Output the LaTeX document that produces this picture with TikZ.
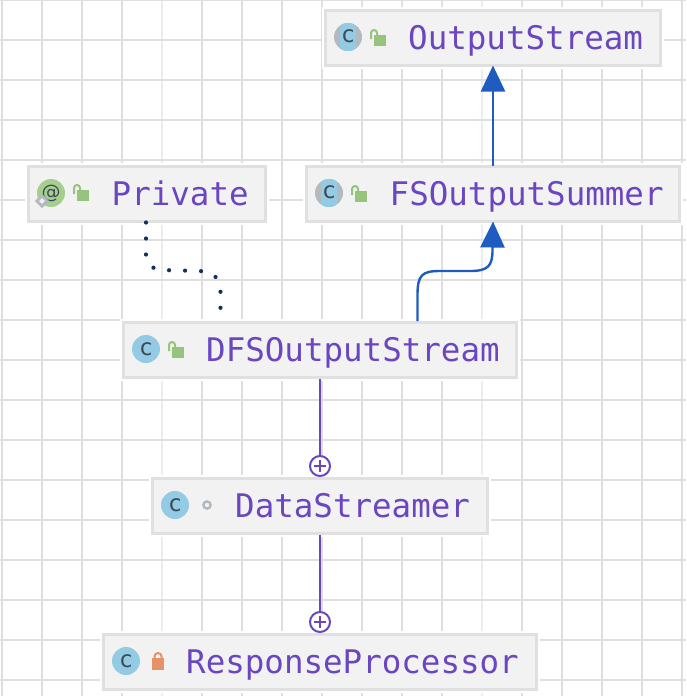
\documentclass[tikz,border=0pt]{standalone}
\usepackage{fontspec}
\setmonofont{DejaVu Sans Mono}
\setsansfont{DejaVu Sans}
\usetikzlibrary{arrows.meta}
\definecolor{gridc}{HTML}{DFDFDF}
\definecolor{gridl}{HTML}{ECECEC}
\definecolor{boxfill}{HTML}{F2F2F2}
\definecolor{boxline}{HTML}{E0E0E0}
\definecolor{purp}{HTML}{6A46C0}
\definecolor{blu}{HTML}{1F5CC0}
\definecolor{navy}{HTML}{12305F}
\definecolor{cblue}{HTML}{93CBE4}
\definecolor{cgray}{HTML}{B2BAC0}
\definecolor{cgreen}{HTML}{A6CF8E}
\definecolor{lockg}{HTML}{96C47E}
\definecolor{locko}{HTML}{E59268}
\definecolor{ink}{HTML}{3C4A55}
\tikzset{
  cls/.style={draw=boxline,line width=2.4pt,fill=boxfill,minimum height=55pt,inner sep=0pt,outer sep=1pt,
    preaction={draw=white,line width=7pt}},
  lbl/.style={text=purp,inner sep=0pt,anchor=base west,font=\fontsize{32.5}{36}\selectfont\ttfamily},
  cglyph/.style={text=ink,inner sep=0pt,font=\fontsize{23}{24}\selectfont\ttfamily},
  badge/.style={circle,fill=cblue,minimum size=28pt,inner sep=0pt,cglyph},
  gbadge/.style={circle,fill=cgreen,minimum size=28pt,inner sep=0pt,text=ink,font=\fontsize{19}{20}\selectfont\sffamily},
  ext/.style={-{Triangle[length=26pt,width=24pt]},blu,line width=2.4pt,shorten >=-1pt},
  inner/.style={purp,line width=2.2pt},
  plusc/.style={circle,draw=purp,line width=2pt,fill=white,minimum size=20pt,inner sep=0pt},
  dep/.style={navy,line width=4.2pt,line cap=round,dash pattern=on 0pt off 16pt},
}
\newcommand{\openlock}[2]{%
  \fill[lockg] (#1+3,#2-1) rectangle (#1+15,#2+10);
  \draw[lockg,line width=2pt] (#1,#2+3) -- (#1,#2-3) arc[start angle=180,end angle=0,radius=3pt] -- (#1+6,#2-1);
}
\newcommand{\mixedbadge}[2]{%
  \fill[cgray] (#1,#2) circle (14pt);
  \begin{scope}
    \clip (#1,#2) circle (14pt);
    \fill[cblue] (#1-8,#2-14) rectangle (#1+8,#2+14);
  \end{scope}
}
\begin{document}
\begin{tikzpicture}[x=1pt,y=-1pt]
\useasboundingbox (0,0) rectangle (686,696);
\fill[white] (0,0) rectangle (686,696);
\foreach \v in {2,42,82,122,202,242,282,322,362,402,442,522,562,602,642,682}
  \draw[gridc,line width=2pt] (\v,0) -- (\v,696);
\foreach \v in {162,482}
  \draw[gridl,line width=2pt] (\v,0) -- (\v,696);
\foreach \h in {0,40,80,120,160,200,240,280,320,360,400,440,480,520,560,600,640,680}
  \draw[gridc,line width=2pt] (0,\h) -- (686,\h);

\node[cls,minimum width=335pt] (os) at (493,38) {};
\node[cls,minimum width=237pt] (pv) at (147,194) {};
\node[cls,minimum width=373pt] (fs) at (493,194) {};
\node[cls,minimum width=393pt] (dfs) at (320,350) {};
\node[cls,minimum width=335pt] (ds) at (320,506) {};
\node[cls,minimum width=433pt] (rp) at (320,662) {};

\node[lbl] (tos) at (408,49) {OutputStream};
\node[lbl] (tpv) at (111.5,205) {Private};
\node[lbl] (tfs) at (389.5,205) {FSOutputSummer};
\node[lbl] (tdfs) at (206,361) {DFSOutputStream};
\node[lbl] (tds) at (235,517) {DataStreamer};
\node[lbl] (trp) at (186,673) {ResponseProcessor};

% class badges
\mixedbadge{348}{37}
\node[cglyph] (bos) at (348,36) {c};
\mixedbadge{329}{193}
\node[cglyph] (bfs) at (329,192) {c};
\node[gbadge] (bpv) at (51,193) {@};
\fill[cgray,rotate around={45:(42,201)}] (37,196) rectangle (47,206);
\fill[boxfill,rotate around={45:(42,201)}] (40,199) rectangle (44,203);
\node[badge] (bdfs) at (146,349) {c};
\node[badge] (bds) at (175,505) {c};
\node[badge] (brp) at (126,661) {c};

% visibility
\openlock{371}{36}
\openlock{352}{192}
\openlock{74}{191}
\openlock{169}{348}
\draw[cgray,line width=2.4pt] (207,505) circle (3.6pt);
\fill[locko] (152,658) rectangle (164,670);
\draw[locko,line width=2pt] (154.5,658) -- (154.5,656.5) arc[start angle=180,end angle=0,radius=3.5pt] -- (161.5,658);

% connectors
\draw[ext] (fs.north) -- (os.south);
\draw[ext] (417.5,321) -- (417.5,295) .. controls (417.5,275) and (422,271) .. (440,271) -- (470,271) .. controls (488,271) and (492.5,266) .. (492.5,250) -- (fs.south);
\draw[dep] (146,222.5) -- (146,255) .. controls (146,262) and (150,268) .. (160,270) -- (200,271) .. controls (212,272) and (220,276) .. (220.5,292) -- (220.5,320);
\coordinate (pa) at (320,466);
\coordinate (pb) at (320,622);
\draw[inner] (dfs.south) -- (pa);
\draw[inner] (ds.south) -- (pb);
\node[plusc] (p1) at (pa) {};
\node[plusc] (p2) at (pb) {};
\foreach \n in {p1,p2} {
  \draw[purp,line width=1.8pt] (\n.center) +(-6,0) -- +(6,0);
  \draw[purp,line width=1.8pt] (\n.center) +(0,-6) -- +(0,6);
}
\end{tikzpicture}
\end{document}
